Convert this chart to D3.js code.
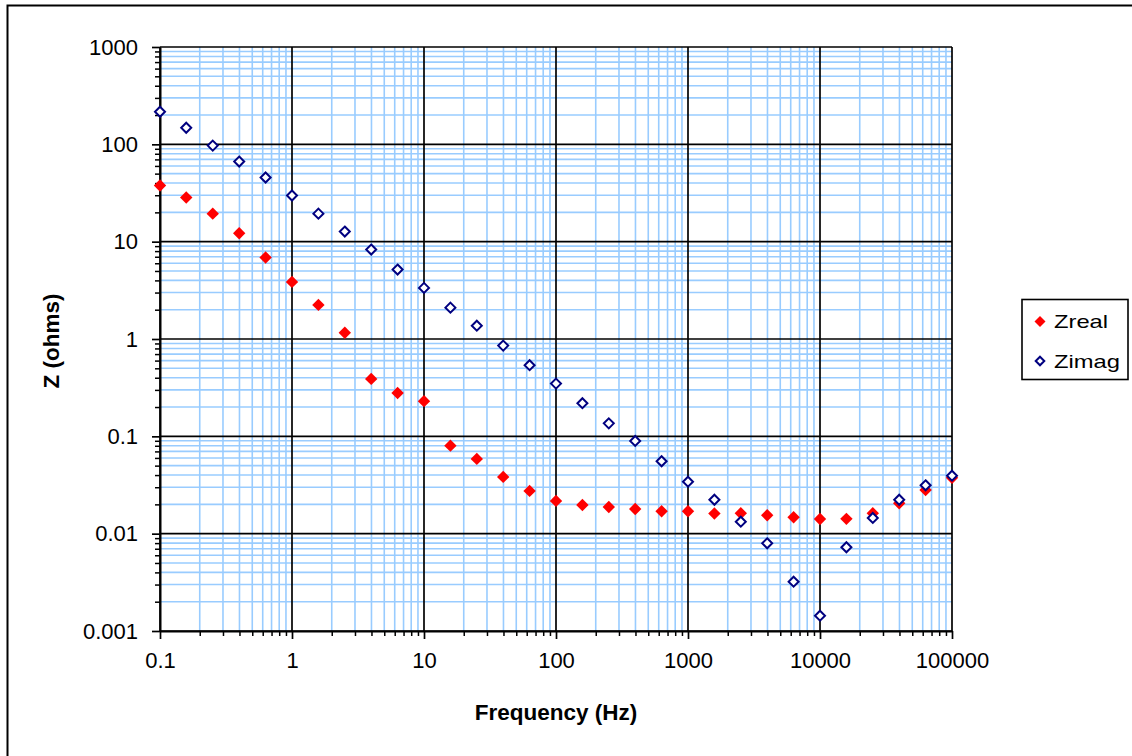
<!DOCTYPE html>
<html>
<head>
<meta charset="utf-8">
<script src="https://cdn.jsdelivr.net/npm/d3@7"></script>
<style>
  html, body { margin: 0; padding: 0; background: #fff; }
  svg { display: block; font-family: "Liberation Sans", Arial, sans-serif; }
</style>
</head>
<body>
<svg id="chart" width="1132" height="756"></svg>
<script>
// ---- data ----
const frequency = [0.1, 0.158, 0.251, 0.398, 0.631, 1, 1.585, 2.512, 3.981, 6.31,
  10, 15.85, 25.12, 39.81, 63.1, 100, 158.5, 251.2, 398.1, 631, 1000, 1585, 2512,
  3981, 6310, 10000, 15849, 25119, 39811, 63096, 100000];
const zreal = [37.7, 28.4, 19.4, 12.2, 6.87, 3.86, 2.24, 1.16, 0.389, 0.279,
  0.23, 0.0802, 0.0586, 0.0383, 0.0275, 0.0217, 0.0197, 0.0188, 0.0179, 0.0170,
  0.0170, 0.0161, 0.0162, 0.01545, 0.01475, 0.01416, 0.0142, 0.0162, 0.0205, 0.0281, 0.0376];
const zimag = [216, 148, 97, 66.5, 45.6, 29.8, 19.4, 12.7, 8.3, 5.17,
  3.35, 2.10, 1.37, 0.855, 0.538, 0.348, 0.219, 0.136, 0.0897, 0.0555,
  0.0342, 0.0223, 0.01328, 0.00796, 0.00321, 0.001436, 0.00725, 0.0145, 0.0223, 0.0314, 0.0394];
const xTickLabels = ["0.1", "1", "10", "100", "1000", "10000", "100000"];
const yTickLabels = ["0.001", "0.01", "0.1", "1", "10", "100", "1000"];
const seriesNames = ["Zreal", "Zimag"];
const xTitle = "Frequency (Hz)";
const yTitle = "Z (ohms)";

// ---- layout ----
const svg = d3.select("#chart");
const L = 160, R = 952, T = 47, B = 631;
const x = d3.scaleLog().domain([0.1, 100000]).range([L, R]);
const y = d3.scaleLog().domain([0.001, 1000]).range([B, T]);

// outer frame
svg.append("path").attr("d", "M7.5,760 L7.5,5.5 L1140,5.5")
  .attr("fill", "none").attr("stroke", "#000").attr("stroke-width", 2);

function minors(lo, hi) {
  const out = [];
  for (let e = Math.log10(lo); e < Math.log10(hi); e++) {
    for (let m = 2; m <= 9; m++) out.push(m * Math.pow(10, e));
  }
  return out;
}
const xMajor = xTickLabels.map(Number);
const yMajor = yTickLabels.map(Number);
const xMinor = minors(0.1, 100000);
const yMinor = minors(0.001, 1000);

const g = svg.append("g");
g.selectAll(".xmin").data(xMinor).join("line")
  .attr("class", "xmin")
  .attr("x1", d => x(d)).attr("x2", d => x(d)).attr("y1", T).attr("y2", B)
  .attr("stroke", "#99CCFF").attr("stroke-width", 1.6);
g.selectAll(".ymin").data(yMinor).join("line")
  .attr("class", "ymin")
  .attr("y1", d => y(d)).attr("y2", d => y(d)).attr("x1", L).attr("x2", R)
  .attr("stroke", "#99CCFF").attr("stroke-width", 1.6);
g.selectAll(".xmaj").data(xMajor).join("line")
  .attr("class", "xmaj")
  .attr("x1", d => x(d)).attr("x2", d => x(d)).attr("y1", T).attr("y2", B)
  .attr("stroke", "#000").attr("stroke-width", 1.7);
g.selectAll(".ymaj").data(yMajor).join("line")
  .attr("class", "ymaj")
  .attr("y1", d => y(d)).attr("y2", d => y(d)).attr("x1", L).attr("x2", R)
  .attr("stroke", "#000").attr("stroke-width", 1.7);

// axes
const xAxis = d3.axisBottom(x).tickValues(xMajor).tickSize(8).tickSizeOuter(0)
  .tickFormat((d, i) => xTickLabels[i]).tickPadding(14);
const yAxis = d3.axisLeft(y).tickValues(yMajor).tickSize(8).tickSizeOuter(0)
  .tickFormat((d, i) => yTickLabels[i]).tickPadding(14);
const gx = svg.append("g").attr("transform", `translate(0,${B})`).call(xAxis);
const gy = svg.append("g").attr("transform", `translate(${L},0)`).call(yAxis);
[gx, gy].forEach(a => {
  a.select(".domain").attr("stroke", "#000").attr("stroke-width", 2);
  a.selectAll(".tick line").attr("stroke", "#000").attr("stroke-width", 1.7);
  a.selectAll(".tick text").attr("fill", "#000").attr("font-size", 22)
    .attr("font-family", "Liberation Sans, Arial, sans-serif");
});
gx.selectAll(".tick text").attr("dy", "0.68em");
const gxm = d3.axisBottom(x).tickValues(xMinor).tickSize(5).tickSizeOuter(0).tickFormat("");
const gym = d3.axisLeft(y).tickValues(yMinor).tickSize(5).tickSizeOuter(0).tickFormat("");
const gx2 = svg.append("g").attr("transform", `translate(0,${B})`).call(gxm);
const gy2 = svg.append("g").attr("transform", `translate(${L},0)`).call(gym);
[gx2, gy2].forEach(a => {
  a.select(".domain").remove();
  a.selectAll(".tick line").attr("stroke", "#000").attr("stroke-width", 1.5);
});

// axis titles
svg.append("text").attr("x", (L + R) / 2).attr("y", 720)
  .attr("text-anchor", "middle").attr("font-weight", "bold").attr("font-size", 22.5)
  .text(xTitle);
svg.append("text").attr("transform", "translate(59,341) rotate(-90)")
  .attr("text-anchor", "middle").attr("font-weight", "bold").attr("font-size", 22.5)
  .text(yTitle);

// markers
function diamond(r) { return `M0,${-r}L${r},0L0,${r}L${-r},0Z`; }
const realData = frequency.map((f, i) => [f, zreal[i]]);
const imagData = frequency.map((f, i) => [f, zimag[i]]);
svg.append("g").selectAll("path").data(realData).join("path")
  .attr("transform", d => `translate(${x(d[0])},${y(d[1])})`)
  .attr("d", diamond(6.2)).attr("fill", "#FF0000");
svg.append("g").selectAll("path").data(imagData).join("path")
  .attr("transform", d => `translate(${x(d[0])},${y(d[1])})`)
  .attr("d", diamond(5)).attr("fill", "#fff").attr("stroke", "#000080").attr("stroke-width", 2);

// legend
const lg = svg.append("g");
lg.append("rect").attr("x", 1022).attr("y", 299.5).attr("width", 106).attr("height", 80)
  .attr("fill", "#fff").attr("stroke", "#000").attr("stroke-width", 1.6);
lg.append("path").attr("transform", "translate(1040,321.5)").attr("d", diamond(5.5)).attr("fill", "#FF0000");
lg.append("path").attr("transform", "translate(1040,361)").attr("d", diamond(4.3))
  .attr("fill", "#fff").attr("stroke", "#000080").attr("stroke-width", 2);
seriesNames.forEach((s, i) => {
  lg.append("text").attr("transform", `translate(1054,${328 + i * 40}) scale(1.25,1)`)
    .attr("font-size", 19).attr("fill", "#000").text(s);
});
</script>
</body>
</html>
